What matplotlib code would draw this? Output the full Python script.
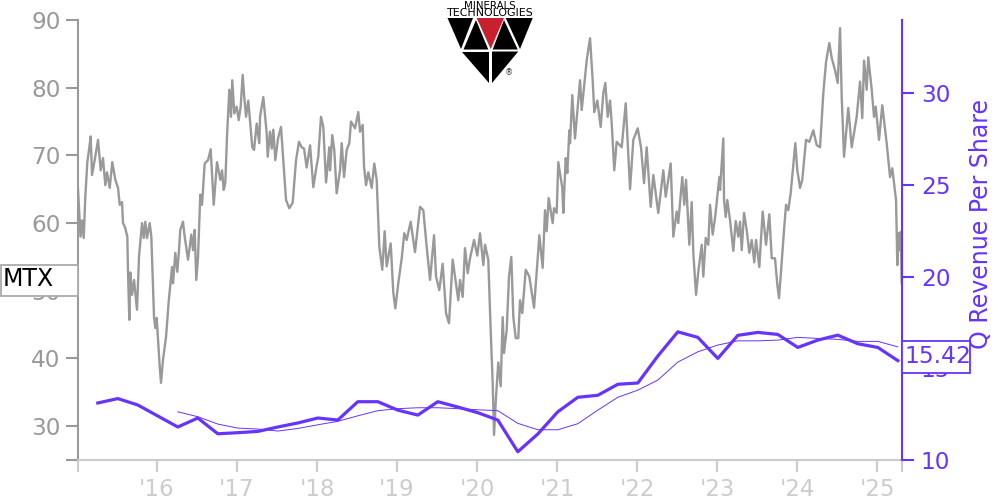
import numpy as np
import matplotlib
matplotlib.use('Agg')
import matplotlib.pyplot as plt
from matplotlib.patches import Polygon, Rectangle

GREY = '#999999'
LIGHT = '#cccccc'
PURPLE = '#6633ff'

# MTX share price
price_years = [
    2015.013, 2015.044, 2015.063, 2015.084, 2015.104, 2015.129, 2015.15, 2015.171, 2015.188, 2015.221, 2015.263,
    2015.296, 2015.325, 2015.354, 2015.375, 2015.409, 2015.441, 2015.479, 2015.513, 2015.534, 2015.563, 2015.575,
    2015.6, 2015.629, 2015.638, 2015.654, 2015.666, 2015.688, 2015.713, 2015.75, 2015.775, 2015.813, 2015.834,
    2015.854, 2015.875, 2015.909, 2015.929, 2015.963, 2015.979, 2015.996,
    2016.034, 2016.05, 2016.075, 2016.113, 2016.146, 2016.188, 2016.2, 2016.229, 2016.254, 2016.275, 2016.291,
    2016.325, 2016.346, 2016.388, 2016.429, 2016.45, 2016.471, 2016.491, 2016.513, 2016.541, 2016.563, 2016.596,
    2016.638, 2016.671, 2016.709, 2016.75, 2016.791, 2016.813, 2016.834, 2016.854, 2016.875, 2016.904, 2016.925,
    2016.941, 2016.966, 2016.996,
    2017.021, 2017.046, 2017.071, 2017.091, 2017.113, 2017.141, 2017.191, 2017.213, 2017.246, 2017.279, 2017.288,
    2017.329, 2017.371, 2017.384, 2017.413, 2017.434, 2017.454, 2017.479, 2017.513, 2017.55, 2017.579, 2017.613,
    2017.654, 2017.696, 2017.738, 2017.775, 2017.809, 2017.838, 2017.871, 2017.913, 2017.954, 2017.996,
    2018.016, 2018.05, 2018.079, 2018.113, 2018.154, 2018.163, 2018.191, 2018.216, 2018.246, 2018.288, 2018.309,
    2018.338, 2018.371, 2018.404, 2018.425, 2018.475, 2018.516, 2018.538, 2018.571, 2018.588, 2018.613, 2018.641,
    2018.684, 2018.716, 2018.746, 2018.779, 2018.816, 2018.846, 2018.871, 2018.921, 2018.954, 2018.979,
    2019.016, 2019.059, 2019.091, 2019.121, 2019.171, 2019.225, 2019.288, 2019.329, 2019.371, 2019.413, 2019.463,
    2019.488, 2019.529, 2019.571, 2019.613, 2019.65, 2019.696, 2019.766, 2019.788, 2019.821, 2019.85, 2019.884,
    2019.913, 2019.963,
    2020.004, 2020.038, 2020.079, 2020.1, 2020.141, 2020.171, 2020.196, 2020.213, 2020.238, 2020.266, 2020.296,
    2020.321, 2020.338, 2020.371, 2020.4, 2020.429, 2020.454, 2020.484, 2020.516, 2020.538, 2020.566, 2020.609,
    2020.654, 2020.713, 2020.754, 2020.779, 2020.821, 2020.85, 2020.871, 2020.896, 2020.946, 2020.963, 2020.996,
    2021.016, 2021.066, 2021.079, 2021.109, 2021.129, 2021.154, 2021.163, 2021.191, 2021.225, 2021.288, 2021.309,
    2021.371, 2021.413, 2021.446, 2021.466, 2021.504, 2021.546, 2021.579, 2021.604, 2021.634, 2021.663, 2021.684,
    2021.716, 2021.746, 2021.809, 2021.859, 2021.884, 2021.913, 2021.954,
    2022.009, 2022.05, 2022.088, 2022.121, 2022.171, 2022.204, 2022.266, 2022.329, 2022.359, 2022.421, 2022.454,
    2022.496, 2022.516, 2022.566, 2022.591, 2022.613, 2022.654, 2022.684, 2022.704, 2022.738, 2022.766, 2022.809,
    2022.829, 2022.859, 2022.891, 2022.913, 2022.946, 2022.975, 2022.996,
    2023.029, 2023.038, 2023.079, 2023.088, 2023.109, 2023.129, 2023.163, 2023.204, 2023.234, 2023.266, 2023.288,
    2023.309, 2023.338, 2023.371, 2023.404, 2023.434, 2023.466, 2023.488, 2023.529, 2023.571, 2023.613, 2023.654,
    2023.684, 2023.725, 2023.754, 2023.775, 2023.8, 2023.838, 2023.863, 2023.891, 2023.921, 2023.979,
    2024.004, 2024.038, 2024.066, 2024.113, 2024.154, 2024.204, 2024.246, 2024.288, 2024.329, 2024.363, 2024.404,
    2024.434, 2024.475, 2024.509, 2024.538, 2024.559, 2024.588, 2024.641, 2024.684, 2024.746, 2024.788, 2024.816,
    2024.838, 2024.871, 2024.891, 2024.934, 2024.963, 2024.984,
    2025.025, 2025.066, 2025.121, 2025.163, 2025.191, 2025.238, 2025.254, 2025.266, 2025.281, 2025.296, 2025.309,
]
price_values = [
    64.9, 58.0, 60.4, 57.8, 63.9, 69.0, 70.8, 72.8, 67.1, 69.3, 72.3,
    67.8, 69.6, 65.6, 67.5, 65.2, 69.0, 66.4, 65.2, 62.7, 63.1, 60.0,
    59.4, 58.0, 52.6, 45.7, 52.7, 49.4, 51.6, 47.2, 55.0, 60.0, 57.8,
    60.2, 57.8, 60.0, 58.0, 46.1, 44.5, 46.0,
    38.8, 36.4, 39.8, 43.2, 48.4, 53.5, 51.1, 55.6, 52.8, 56.0, 59.0,
    60.2, 58.0, 54.6, 58.3, 56.0, 59.0, 51.6, 55.0, 64.2, 62.7, 68.8,
    69.3, 70.9, 62.7, 69.0, 66.4, 67.8, 64.9, 66.0, 72.8, 79.7, 75.7,
    81.1, 76.2, 77.2,
    75.2, 77.2, 81.9, 78.6, 75.7, 78.1, 71.2, 70.8, 74.7, 71.8, 75.7,
    78.6, 73.3, 69.8, 73.5, 71.0, 73.8, 69.3, 72.5, 74.2, 69.3, 63.4,
    62.2, 63.0, 69.3, 72.0, 71.2, 71.0, 68.2, 71.5, 65.3, 68.5,
    69.8, 75.7, 74.2, 66.0, 71.2, 67.8, 73.0, 70.8, 64.4, 67.8, 71.8,
    66.8, 70.8, 71.8, 75.0, 74.0, 76.4, 73.5, 74.5, 68.3, 65.6, 67.5,
    65.2, 68.8, 66.4, 56.5, 53.1, 58.8, 53.6, 57.0, 49.7, 47.4,
    51.1, 54.8, 58.5, 57.5, 60.2, 55.7, 62.4, 61.9, 56.5, 51.6, 58.2,
    52.1, 50.1, 54.0, 46.7, 45.2, 54.6, 48.6, 51.6, 49.1, 56.3, 52.6,
    54.8, 57.5,
    55.2, 58.5, 53.8, 56.8, 54.6, 44.2, 36.4, 28.7, 34.4, 39.4, 35.9,
    46.1, 40.8, 44.2, 52.1, 55.0, 46.1, 43.0, 43.0, 48.6, 46.7, 53.1,
    52.1, 47.5, 54.0, 58.2, 53.4, 61.9, 58.8, 63.7, 60.0, 62.2, 61.5,
    69.0, 65.2, 61.5, 69.6, 67.4, 73.7, 71.8, 78.9, 72.5, 81.1, 76.7,
    84.0, 87.3, 81.1, 76.4, 78.1, 74.2, 79.2, 80.7, 75.7, 78.1, 74.7,
    67.8, 72.0, 71.2, 77.7, 71.8, 65.0, 72.3,
    74.0, 71.2, 65.9, 71.2, 62.4, 67.1, 61.5, 67.8, 63.9, 68.8, 58.0,
    61.7, 60.0, 66.8, 62.7, 66.4, 56.8, 63.1, 55.6, 49.4, 52.8, 56.8,
    52.1, 57.8, 56.8, 62.7, 58.3, 60.7, 63.0,
    66.8, 64.9, 72.5, 63.4, 60.9, 63.4, 60.4, 55.9, 60.3, 58.0, 60.2,
    56.0, 61.5, 59.0, 55.6, 57.5, 54.2, 57.5, 53.5, 61.7, 56.8, 61.3,
    54.8, 54.8, 50.9, 48.9, 52.8, 59.0, 62.7, 61.9, 64.4, 71.8,
    67.8, 65.2, 66.4, 72.3, 72.0, 73.7, 71.5, 71.2, 79.2, 83.8, 86.6,
    84.4, 82.6, 80.7, 88.8, 78.6, 69.8, 77.0, 71.2, 75.7, 80.9, 75.5,
    84.0, 79.7, 84.5, 79.7, 75.7, 77.2,
    72.3, 77.4, 71.8, 66.8, 68.1, 63.4, 53.8, 58.5, 56.0, 58.7, 51.1,
]

# quarterly revenue per share, first quarter plotted is Q1 2015
revenue = [
    13.11, 13.35, 13.0,
    12.4, 11.8, 12.29, 11.43,
    11.49, 11.56, 11.8, 12.02,
    12.29, 12.18, 13.18, 13.18,
    12.72, 12.45, 13.18, 12.89,
    12.58, 12.18, 10.45, 11.42,
    12.63, 13.42, 13.53, 14.13,
    14.2, 15.67, 16.99, 16.69,
    15.54, 16.8, 16.96, 16.85,
    16.14, 16.54, 16.81, 16.34,
    16.14, 15.42,
]
# thin line, only starts in the second quarter of 2016
revenue_avg = [
    12.63, 12.36, 11.96,
    11.74, 11.69, 11.58, 11.72,
    11.92, 12.11, 12.41, 12.69,
    12.8, 12.85, 12.85, 12.8,
    12.74, 12.69, 12.0, 11.65,
    11.65, 11.98, 12.72, 13.42,
    13.81, 14.36, 15.34, 15.9,
    16.27, 16.5, 16.5, 16.54,
    16.69, 16.63, 16.58, 16.47,
    16.47, 16.17,
]
quarter_start = 2015.26

year_ticks = [2015.0125, 2016, 2017, 2018, 2019, 2020, 2021, 2022, 2023, 2024, 2025, 2025.3125]
year_labels = ['', "'16", "'17", "'18", "'19", "'20", "'21", "'22", "'23", "'24", "'25", '']
price_ticks = [30, 40, 50, 60, 70, 80, 90]
revenue_ticks = [10, 15, 20, 25, 30]
ticker = 'MTX'
last_revenue = '15.42'
revenue_label = 'Q Revenue Per Share'

fig = plt.figure(figsize=(10, 5), dpi=100)
ax = fig.add_axes([0.078, 0.08, 0.824, 0.88])
ax2 = ax.twinx()

rev_x = quarter_start + 0.25 * np.arange(len(revenue))
ax.plot(price_years, price_values, color=GREY, lw=1.7, solid_joinstyle='round')
ax2.plot(rev_x, revenue, color=PURPLE, lw=2.3)
ax2.plot(rev_x[4:], revenue_avg, color=PURPLE, lw=0.7)

ax.set_xlim(2015.0125, 2025.3125)
ax.set_ylim(25, 90)
ax2.set_ylim(10, 34)

ax.set_xticks(year_ticks)
ax.set_xticklabels(year_labels)
ax.set_yticks([25] + price_ticks)
ax.set_yticklabels([''] + [str(v) for v in price_ticks])
ax2.set_yticks(revenue_ticks)

ax.tick_params(axis='x', length=8.6, width=1.5, color=LIGHT, labelcolor=LIGHT, labelsize=16.5, pad=4)
ax.tick_params(axis='y', length=8.6, width=1.5, color=GREY, labelcolor=GREY, labelsize=16.7, pad=4)
ax2.tick_params(axis='y', length=8.6, width=1.5, color=PURPLE, labelcolor=PURPLE, labelsize=16.7, pad=5)

for a in [ax, ax2]:
    a.spines['top'].set_visible(False)
    a.patch.set_alpha(0)
ax.spines['right'].set_visible(False)
ax.spines['left'].set_color(GREY)
ax.spines['left'].set_linewidth(1.5)
ax.spines['bottom'].set_color(LIGHT)
ax.spines['bottom'].set_linewidth(1.5)
ax2.spines['left'].set_visible(False)
ax2.spines['bottom'].set_visible(False)
ax2.spines['right'].set_color(PURPLE)
ax2.spines['right'].set_linewidth(1.5)

ax2.set_ylabel(revenue_label, color=PURPLE, fontsize=17)
ax2.yaxis.set_label_coords(1.0815, 0.536)

# overlay in pixel coordinates for the two boxes and the logo
over = fig.add_axes([0, 0, 1, 1], zorder=5)
over.set_xlim(0, 1000)
over.set_ylim(500, 0)
over.axis('off')

over.add_patch(Rectangle((0.5, 264.5), 77.5, 31.5, fc='white', ec='#aaaaaa', lw=1.3))
over.text(3, 279.5, ticker, color='black', fontsize=17, va='center', ha='left')
over.add_patch(Rectangle((902, 340.5), 68, 32, fc='white', ec=PURPLE, lw=1.3))
over.text(904.5, 356.5, last_revenue, color=PURPLE, fontsize=16.8, va='center', ha='left')

black_parts = [
    [(447.5, 18), (473, 18), (461, 49)],
    [(476, 20), (463.5, 49.5), (488.3, 49.5)],
    [(504, 20), (492.7, 49.5), (517.7, 49.5)],
    [(505.7, 18), (532.7, 18), (520, 49)],
    [(462.3, 51.5), (489, 51.5), (489, 83)],
    [(492, 51.5), (518.3, 51.5), (492, 83)],
]
for part in black_parts:
    over.add_patch(Polygon(part, closed=True, fc='black', ec='none'))
over.add_patch(Polygon([(476.7, 18), (504, 18), (490.7, 49)], closed=True, fc='#c8202f', ec='none'))
over.text(490, 6, 'MINERALS', color='black', fontsize=7.4, ha='center', va='center')
over.text(490, 13, 'TECHNOLOGIES', color='black', fontsize=7.9, ha='center', va='center')
over.text(509, 73, '\u00ae', color='#333333', fontsize=6, ha='center', va='center')

fig.savefig('out.png', dpi=100)
